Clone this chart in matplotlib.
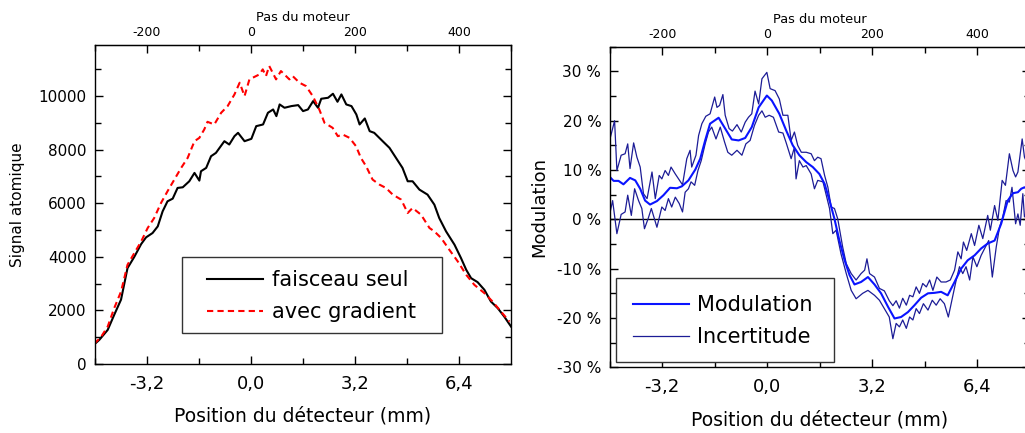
import matplotlib
matplotlib.use("Agg")
import matplotlib.pyplot as plt
from matplotlib.patches import Rectangle
from matplotlib.ticker import MultipleLocator, FuncFormatter

plt.rcParams['font.family'] = ['DejaVu Sans']
plt.rcParams['axes.unicode_minus'] = False

# Left panel: atomic signal vs detector position (mm)
black_x = [-4.82, -4.67, -4.41, -4.21, -4.00, -3.80, -3.59, -3.38, -3.23, -3.03,
           -2.87, -2.72, -2.57, -2.41, -2.26, -2.10, -1.90, -1.74, -1.59, -1.54,
           -1.38, -1.23, -1.08, -0.82, -0.67, -0.51, -0.40, -0.20, 0.01, 0.16,
           0.37, 0.52, 0.68, 0.78, 0.88, 1.03, 1.24, 1.45, 1.60, 1.75,
           1.91, 2.06, 2.16, 2.37, 2.52, 2.66, 2.78, 2.93, 3.09, 3.24,
           3.34, 3.50, 3.65, 3.79, 4.05, 4.26, 4.46, 4.66, 4.82, 4.97,
           5.18, 5.43, 5.64, 5.79, 6.00, 6.26, 6.46, 6.62, 6.77, 6.97,
           7.18, 7.38, 7.59, 7.79, 8.00]
black_y = [736, 897, 1271, 1832, 2400, 3577, 4000, 4474, 4723, 4885,
           5133, 5694, 6068, 6168, 6567, 6592, 6816, 7128, 6841, 7190,
           7315, 7751, 7875, 8311, 8187, 8498, 8623, 8311, 8399, 8872,
           8935, 9371, 9495, 9246, 9682, 9558, 9620, 9657, 9433, 9495,
           9806, 9558, 9894, 9931, 10081, 9782, 10056, 9682, 9620, 9308,
           8935, 9159, 8685, 8623, 8311, 8062, 7688, 7315, 6816, 6816,
           6505, 6318, 5944, 5445, 4947, 4449, 3950, 3514, 3202, 3053,
           2766, 2330, 2082, 1768, 1394]

red_x = [-4.82, -4.62, -4.41, -4.21, -4.00, -3.80, -3.59, -3.38, -3.18, -2.98,
         -2.77, -2.57, -2.36, -2.15, -1.95, -1.74, -1.59, -1.44, -1.34, -1.13,
         -0.92, -0.72, -0.51, -0.35, -0.20, -0.05, 0.26, 0.36, 0.46, 0.56,
         0.77, 0.92, 1.18, 1.28, 1.49, 1.69, 1.90, 2.10, 2.26, 2.51,
         2.67, 2.82, 3.03, 3.23, 3.38, 3.54, 3.74, 3.95, 4.15, 4.36,
         4.62, 4.82, 4.97, 5.23, 5.49, 5.64, 5.85, 6.10, 6.36, 6.62,
         6.87, 7.18, 7.43, 7.69, 7.95]
red_y = [760, 1000, 1394, 2082, 2700, 3701, 4138, 4572, 5073, 5445,
         6006, 6442, 6879, 7315, 7688, 8311, 8436, 8748, 9034, 8935,
         9371, 9620, 10056, 10493, 9993, 10617, 10804, 10991, 10741, 11116,
         10617, 10928, 10617, 10741, 10493, 10367, 9993, 9495, 8997, 8810,
         8498, 8560, 8436, 8125, 7688, 7377, 6879, 6692, 6567, 6318,
         6131, 5633, 5820, 5570, 5073, 4947, 4698, 4262, 3826, 3327,
         2953, 2642, 2330, 1955, 1581]

# Right panel: modulation (%) and its uncertainty band
mod_x = [-4.84, -4.68, -4.53, -4.38, -4.18, -4.02, -3.87, -3.72, -3.57, -3.36,
         -3.16, -2.96, -2.75, -2.60, -2.40, -2.19, -2.04, -1.89, -1.74, -1.48,
         -1.28, -1.08, -0.87, -0.67, -0.47, -0.26, -0.01, 0.14, 0.37, 0.58,
         0.78, 0.98, 1.19, 1.39, 1.59, 1.75, 1.90, 2.05, 2.20, 2.36,
         2.51, 2.66, 2.86, 3.07, 3.27, 3.47, 3.68, 3.88, 4.08, 4.29,
         4.49, 4.69, 4.90, 5.10, 5.30, 5.50, 5.71, 5.91, 6.11, 6.32,
         6.52, 6.72, 6.93, 7.13, 7.33, 7.49, 7.64, 7.74, 7.84, 7.95]
mod_y = [8.9, 7.8, 7.8, 7.1, 8.4, 7.9, 6.2, 3.8, 3.0, 3.7,
         4.9, 6.4, 6.3, 6.7, 7.9, 10.1, 12.3, 16.0, 19.4, 20.6,
         18.4, 16.2, 16.0, 16.5, 18.7, 22.7, 25.1, 24.1, 21.4, 18.0,
         15.0, 13.0, 11.6, 10.6, 9.2, 7.2, 3.8, 0.1, -4.3, -8.3,
         -11.3, -13.2, -12.7, -11.7, -13.2, -15.0, -17.7, -20.1, -19.8, -18.8,
         -17.4, -15.9, -15.0, -14.9, -14.7, -15.4, -12.7, -10.0, -8.3, -7.3,
         -5.9, -4.9, -4.3, -0.9, 3.8, 5.3, 5.5, 6.2, 6.5, 6.0]

up_x = [-4.84, -4.65, -4.58, -4.45, -4.33, -4.25, -4.18, -4.07, -3.97, -3.87,
        -3.77, -3.66, -3.51, -3.41, -3.29, -3.21, -3.11, -3.01, -2.93, -2.80,
        -2.70, -2.58, -2.45, -2.35, -2.30, -2.17, -2.09, -1.99, -1.87, -1.74,
        -1.60, -1.53, -1.45, -1.35, -1.28, -1.16, -1.06, -0.92, -0.79, -0.67,
        -0.57, -0.47, -0.37, -0.26, -0.16, -0.01, 0.09, 0.24, 0.37, 0.48,
        0.63, 0.73, 0.83, 0.93, 1.04, 1.19, 1.34, 1.44, 1.54, 1.64,
        1.75, 1.85, 1.95, 2.05, 2.15, 2.30, 2.41, 2.56, 2.71, 2.86,
        2.97, 3.04, 3.12, 3.27, 3.42, 3.57, 3.72, 3.83, 3.93, 4.03,
        4.13, 4.24, 4.34, 4.44, 4.54, 4.64, 4.74, 4.85, 4.95, 5.05,
        5.17, 5.30, 5.45, 5.58, 5.71, 5.81, 5.91, 5.98, 6.08, 6.22,
        6.32, 6.45, 6.57, 6.72, 6.80, 6.93, 7.03, 7.16, 7.26, 7.38,
        7.49, 7.57, 7.64, 7.77, 7.84, 7.95]
up_y = [15.0, 20.0, 9.9, 13.0, 13.3, 15.3, 10.3, 15.5, 12.6, 10.6,
        5.2, 4.2, 9.6, 4.2, 8.9, 8.2, 9.9, 8.9, 10.6, 9.2,
        8.2, 7.0, 12.3, 14.0, 10.6, 13.0, 17.0, 19.4, 20.9, 21.4,
        24.8, 22.7, 23.1, 25.3, 21.1, 18.4, 17.9, 19.2, 17.7, 19.7,
        20.7, 21.4, 26.0, 23.4, 28.5, 29.8, 26.5, 26.1, 24.4, 21.1,
        21.1, 16.0, 17.7, 15.0, 13.6, 13.6, 13.3, 11.9, 12.6, 12.3,
        8.9, 6.5, 2.5, 2.2, 0.1, -5.6, -9.0, -11.0, -12.3, -11.0,
        -10.3, -8.0, -11.0, -11.7, -14.0, -14.5, -16.5, -17.5, -16.5, -18.0,
        -16.0, -17.4, -15.4, -15.7, -13.7, -15.0, -13.0, -13.7, -12.3, -14.4,
        -11.7, -12.7, -12.7, -12.3, -10.3, -6.6, -8.0, -4.6, -6.3, -2.9,
        -5.3, -1.2, -3.9, 0.8, -2.2, 2.8, -0.2, 7.9, 6.9, 13.3,
        9.9, 8.6, 9.6, 16.3, 12.6, 11.0]

lo_x = [-4.84, -4.71, -4.58, -4.45, -4.33, -4.25, -4.14, -4.04, -3.92, -3.82,
        -3.74, -3.63, -3.53, -3.36, -3.21, -3.11, -3.01, -2.91, -2.80, -2.68,
        -2.58, -2.50, -2.40, -2.32, -2.21, -2.11, -2.01, -1.89, -1.79, -1.69,
        -1.56, -1.43, -1.30, -1.20, -1.08, -0.92, -0.77, -0.65, -0.52, -0.39,
        -0.26, -0.16, -0.06, 0.06, 0.19, 0.35, 0.48, 0.58, 0.73, 0.83,
        0.88, 0.98, 1.09, 1.19, 1.34, 1.44, 1.54, 1.70, 1.80, 1.90,
        2.00, 2.10, 2.25, 2.41, 2.56, 2.71, 2.91, 3.07, 3.27, 3.42,
        3.57, 3.72, 3.83, 3.93, 4.03, 4.13, 4.24, 4.34, 4.44, 4.54,
        4.64, 4.76, 4.90, 5.03, 5.15, 5.27, 5.40, 5.52, 5.66, 5.76,
        5.86, 5.96, 6.06, 6.17, 6.27, 6.39, 6.52, 6.65, 6.75, 6.86,
        6.98, 7.08, 7.18, 7.28, 7.38, 7.46, 7.57, 7.64, 7.71, 7.79,
        7.84, 7.95]
lo_y = [-0.2, 3.8, -2.9, 1.0, 1.5, 4.9, 0.8, 6.2, 3.8, 2.2,
        -1.9, 0.1, 2.2, -1.6, 2.5, 1.8, 4.2, 2.5, 4.5, 3.2,
        1.5, 5.5, 6.2, 7.6, 6.9, 9.9, 11.9, 15.3, 17.7, 18.7,
        16.3, 18.7, 15.7, 13.6, 13.0, 14.0, 13.0, 15.3, 16.0, 19.0,
        21.1, 22.0, 20.7, 21.1, 20.7, 17.7, 17.5, 15.5, 12.3, 14.6,
        8.2, 11.9, 10.6, 10.9, 9.2, 6.2, 7.9, 7.6, 4.9, 2.2,
        -2.9, -2.2, -7.0, -11.0, -14.4, -16.1, -15.0, -14.4, -15.4, -16.4,
        -18.1, -19.8, -24.2, -21.1, -21.8, -20.4, -22.1, -19.8, -20.4, -18.1,
        -19.1, -17.1, -18.4, -16.4, -17.4, -16.1, -17.1, -19.8, -15.4, -12.3,
        -9.6, -11.0, -9.6, -12.3, -7.6, -9.6, -7.3, -5.6, -4.3, -11.7,
        -5.6, -1.6, 0.5, 3.8, 3.5, 6.5, -0.9, 1.1, -1.2, 5.2,
        0.5, 2.0]

# tick positions and labels (mm, with decimal comma)
x_ticks = [-3.2, 0.0, 3.2, 6.4]
x_tick_labels = ['-3,2', '0,0', '3,2', '6,4']
x_minor_ticks = [-4.8, -1.6, 1.6, 4.8]
steps_per_mm = 62.5

fig = plt.figure(figsize=(10.25, 4.33), dpi=100)
ax1 = fig.add_axes([0.0927, 0.1594, 0.4059, 0.7367])
ax2 = fig.add_axes([0.5948, 0.1517, 0.4098, 0.7404])


def style_axes(ax):
    ax.set_xlim(-4.8, 8.0)
    ax.set_xticks(x_ticks)
    ax.set_xticklabels(x_tick_labels)
    ax.set_xticks(x_minor_ticks, minor=True)
    ax.tick_params(which='both', direction='in', top=False, right=True, width=1)
    ax.tick_params(which='major', length=6)
    ax.tick_params(which='minor', length=4)
    ax.tick_params(axis='x', labelsize=13, pad=8)
    ax.set_xlabel("Position du détecteur (mm)", fontsize=13.5, labelpad=10)
    for sp in ax.spines.values():
        sp.set_linewidth(1.0)
    top = ax.secondary_xaxis('top', functions=(lambda x: x * steps_per_mm,
                                                lambda s: s / steps_per_mm))
    top.set_xticks([-200, 0, 200, 400])
    top.set_xticks([-300, -100, 100, 300, 500], minor=True)
    top.tick_params(which='both', direction='in', width=1, labelsize=9, pad=4)
    top.tick_params(which='major', length=6)
    top.tick_params(which='minor', length=4)
    top.set_xlabel("Pas du moteur", fontsize=9.3, labelpad=4)


def boxed_legend(ax, handles, labels, box, anchor):
    # frame drawn as a plain rectangle so it matches the reference box size
    x0, y0, x1, y1 = box
    ax.add_patch(Rectangle((x0, y0), x1 - x0, y1 - y0, transform=ax.transAxes,
                           facecolor='white', edgecolor='#333333', lw=1.0,
                           zorder=4))
    leg = ax.legend(handles, labels, loc='center left', bbox_to_anchor=anchor,
                    fontsize=15, frameon=False, handlelength=2.7,
                    handletextpad=0.4, borderpad=0, borderaxespad=0,
                    labelspacing=0.58)
    leg.set_zorder(5)
    return leg


# left panel
style_axes(ax1)
l_black, = ax1.plot(black_x, black_y, color='black', lw=1.5)
l_red, = ax1.plot(red_x, red_y, color='red', lw=1.5, dashes=(3, 2))
ax1.set_ylim(0, 11900)
ax1.yaxis.set_major_locator(MultipleLocator(2000))
ax1.yaxis.set_minor_locator(MultipleLocator(1000))
ax1.tick_params(axis='y', labelsize=11, pad=6)
ax1.set_ylabel("Signal atomique", fontsize=11, labelpad=10)
boxed_legend(ax1, [l_black, l_red], ['faisceau seul', 'avec gradient'],
             (0.2084, 0.0962, 0.834, 0.3364), (0.269, 0.212))

# right panel
style_axes(ax2)
ax2.axhline(0, color='black', lw=1.0)
l_up, = ax2.plot(up_x, up_y, color='#1c1c96', lw=0.9)
ax2.plot(lo_x, lo_y, color='#1c1c96', lw=0.9)
l_mod, = ax2.plot(mod_x, mod_y, color='#0a14ff', lw=1.5)
ax2.set_ylim(-30, 35)
ax2.yaxis.set_major_locator(MultipleLocator(10))
ax2.yaxis.set_minor_locator(MultipleLocator(5))
ax2.yaxis.set_major_formatter(FuncFormatter(lambda v, p: f"{int(round(v))} %"))
ax2.tick_params(axis='y', labelsize=11, pad=6)
ax2.set_ylabel("Modulation", fontsize=13, labelpad=6)
boxed_legend(ax2, [l_mod, l_up], ['Modulation', 'Incertitude'],
             (0.015, 0.0156, 0.533, 0.2795), (0.0548, 0.1435))

fig.savefig("out.png", dpi=100)
